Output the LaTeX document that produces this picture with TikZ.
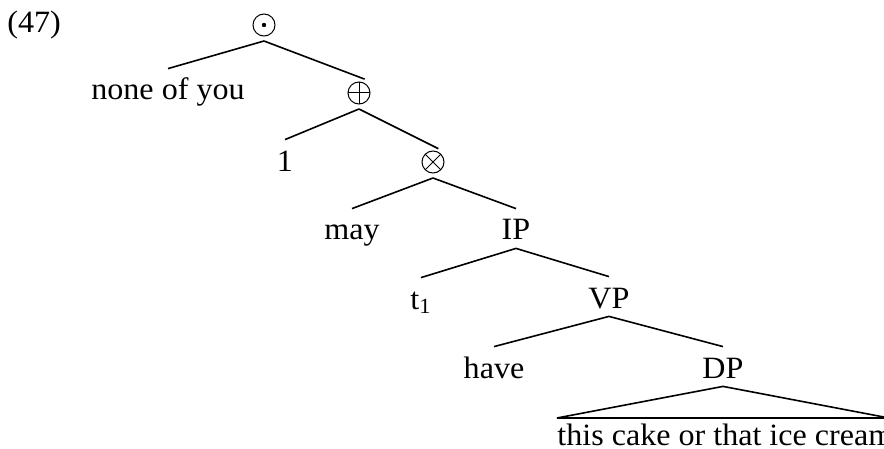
\documentclass[tikz,border=0pt]{standalone}
\usepackage{fontspec}
\setmainfont{Liberation Serif}
\usepackage{graphicx}
\newcommand{\hsx}[1]{\scalebox{1.035}[1]{#1}}
\begin{document}
\begin{tikzpicture}[x=0.5pt,y=-0.5pt,font=\fontsize{15.5}{18}\selectfont,
  lbl/.style={anchor=base,inner sep=0pt,text height=15.5pt,text depth=4pt},
  plain/.style={anchor=base west,inner sep=0pt},
  op/.style={circle,draw,line width=0.5pt,minimum size=11pt,inner sep=0pt,outer sep=2.5pt},
  odotmark/.style={path picture={\fill (path picture bounding box.center) circle (1.1pt);}},
  oplusmark/.style={path picture={\draw[line width=0.5pt] (path picture bounding box.north) -- (path picture bounding box.south) (path picture bounding box.west) -- (path picture bounding box.east);}},
  otimesmark/.style={path picture={\draw[line width=0.5pt] (path picture bounding box.north west) -- (path picture bounding box.south east) (path picture bounding box.south west) -- (path picture bounding box.north east);}},
  br/.style={line width=0.8pt},
  tocirc/.style={br,shorten >=-3pt}]
\useasboundingbox (0,0) rectangle (884,449);
\clip (0,0) rectangle (884,449);
\node[plain] (ex) at (7,33) {\hsx{(47)}};
\node[op,odotmark] (top) at (264,25) {};
\node[lbl] (none) at (168,100) {\hsx{none of you}};
\node[op,oplusmark] (plus) at (359,93) {};
\node[lbl] (one) at (285,171) {\hsx{1}};
\node[op,otimesmark] (times) at (433,162) {};
\node[lbl] (may) at (352,240) {\hsx{may}};
\node[lbl] (ip) at (516,240) {\hsx{IP}};
\node[lbl] (t1) at (421,309) {\hsx{t\textsubscript{1}}};
\node[lbl] (vp) at (609,308) {\hsx{VP}};
\node[lbl] (have) at (494,378) {\hsx{have}};
\node[lbl] (dp) at (723,378) {\hsx{DP}};
\coordinate (tl) at (557,418);
\coordinate (tr) at (889,418);
\node[plain] (yield) at (557,445) {\hsx{this cake or that ice cream}};
\draw[br] (top.south) -- (none.north);
\draw[tocirc] (top.south) -- (plus.north);
\draw[br] (plus.south) -- (one.north);
\draw[tocirc] (plus.south) -- (times.north);
\draw[br] (times.south) -- (may.north);
\draw[br] (times.south) -- (ip.north);
\draw[br] (ip.south) -- (t1.north);
\draw[br] (ip.south) -- (vp.north);
\draw[br] (vp.south) -- (have.north);
\draw[br] (vp.south) -- (dp.north);
\draw[br] (dp.south) -- (tl) -- (tr) -- cycle;
\end{tikzpicture}
\end{document}
